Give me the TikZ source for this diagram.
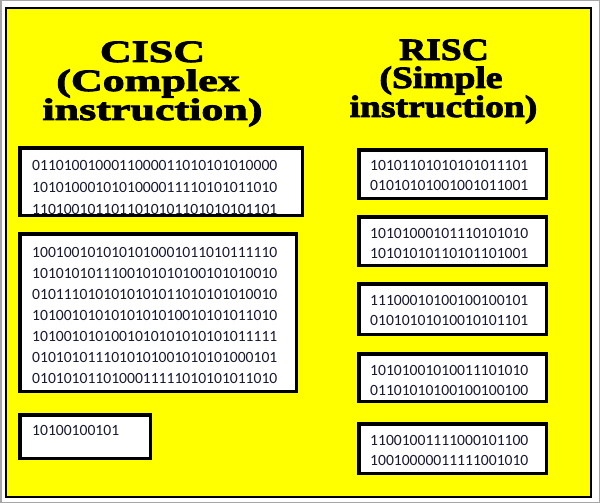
\documentclass[tikz,border=0pt]{standalone}
\usepackage{fontspec}
\setmainfont{Liberation Serif}
\newfontfamily\cisctitlefont[FakeBold=3,FakeStretch=1.42]{Liberation Serif Bold}
\newfontfamily\risctitlefont[FakeBold=3,FakeStretch=1.21]{Liberation Serif Bold}
\newfontfamily\bitsfont{Carlito}
\usetikzlibrary{positioning}

\definecolor{framey}{RGB}{255,255,0}
\definecolor{bitink}{RGB}{25,25,50}

\tikzset{
  codebox/.style={rectangle,draw=black,fill=white,line width=3.5pt,inner sep=0pt},
  bits/.style={font=\bitsfont\fontsize{15.6}{21}\selectfont,text=bitink,align=left,inner sep=0pt},
  rbits/.style={bits,font=\bitsfont\fontsize{15.6}{20}\selectfont},
  cischead/.style={anchor=base,inner sep=0pt,font=\cisctitlefont\fontsize{31}{28}\selectfont},
  rischead/.style={anchor=base,inner sep=0pt,font=\risctitlefont\fontsize{31}{28}\selectfont}
}

\begin{document}
\begin{tikzpicture}[x=1pt,y=-1pt]
\useasboundingbox (0,0) rectangle (600,503);
\fill [white] (0,0) rectangle (600,503);
\draw [gray!70,line width=1.5pt] (0.75,0.75) rectangle (599.25,502.25);
\draw [black,line width=2pt,fill=framey] (6,8) rectangle (591,497);

% headings
\node (ciscttl)  at (152.5,62) [cischead] {CISC};
\node (ciscsub)  at (148,91)   [cischead] {(Complex};
\node (ciscsub2) at (152.5,120) [cischead] {instruction)};
\node (riscttl)  at (444,60)   [rischead] {RISC};
\node (riscsub)  at (441,88)   [rischead] {(Simple};
\node (riscsub2) at (443.5,117) [rischead] {instruction)};

% CISC boxes
\node (cisc1) at (161,181.5) [codebox,minimum width=282.5pt,minimum height=67.5pt] {};
\begin{scope}
\clip (21.5,149.5) rectangle (300.5,213.5);
\node (cisc1txt) at (32,160) [bits,anchor=north west,font=\bitsfont\fontsize{15.6}{22}\selectfont]
  {0110100100011000011010101010000\\1010100010101000011110101011010\\1101001011011010101101010101101};
\end{scope}
\node (cisc2) at (158,312.5) [codebox,minimum width=276.5pt,minimum height=157.5pt] {};
\node (cisc2txt) at (32,247) [bits,anchor=north west]
  {1001001010101010001011010111110\\1010101011100101010100101010010\\0101110101010101011010101010010\\1010010101010101010010101011010\\1010010101001010101010101011111\\0101010111010101001010101000101\\0101010110100011111010101011010};
\node (cisc3) at (85,436.5) [codebox,minimum width=130.5pt,minimum height=43.5pt] {};
\node (cisc3txt) at (32,425) [bits,anchor=north west] {10100100101};

% RISC boxes
\node (risc1) at (452.5,174) [codebox,minimum width=187.5pt,minimum height=48.5pt] {};
\node (risc1txt) at (370,160) [rbits,anchor=north west] {10101101010101011101\\01010101001001011001};
\node (risc2) at (452.5,241) [codebox,minimum width=187.5pt,minimum height=48.5pt] {};
\node (risc2txt) at (370,228) [rbits,anchor=north west] {10101000101110101010\\10101010110101101001};
\node (risc3) at (452.5,309) [codebox,minimum width=187.5pt,minimum height=50.5pt] {};
\node (risc3txt) at (370,295) [rbits,anchor=north west] {11100010100100100101\\01010101010010101101};
\node (risc4) at (452.5,377.5) [codebox,minimum width=187.5pt,minimum height=47.5pt] {};
\node (risc4txt) at (370,365) [rbits,anchor=north west] {10101001010011101010\\01101010100100100100};
\node (risc5) at (452.5,448.5) [codebox,minimum width=187.5pt,minimum height=49.5pt] {};
\node (risc5txt) at (370,435) [rbits,anchor=north west] {11001001111000101100\\10010000011111001010};
\end{tikzpicture}
\end{document}
